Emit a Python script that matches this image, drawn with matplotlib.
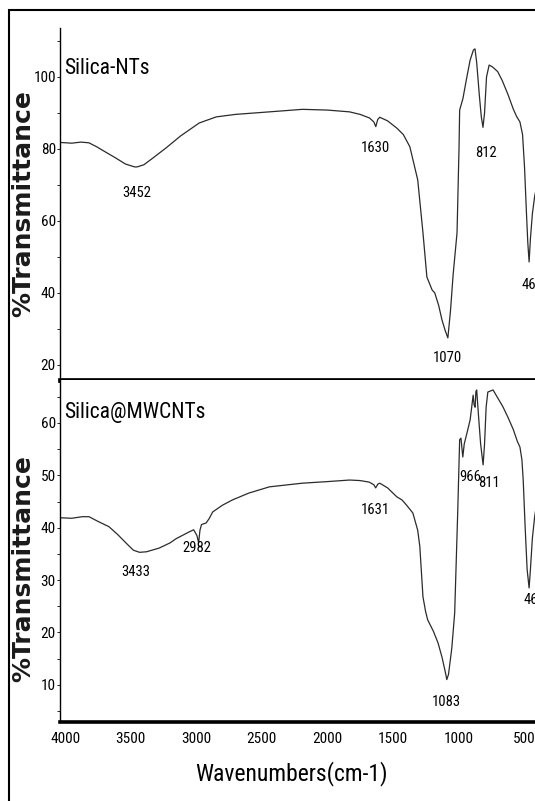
import matplotlib
matplotlib.use("Agg")
import matplotlib.pyplot as plt
from matplotlib import font_manager
from matplotlib.patches import Rectangle
from matplotlib.ticker import MultipleLocator

# FTIR spectra (wavenumber in cm-1, %T)
wn_nts = [4040, 3950, 3880, 3819, 3760, 3700, 3620, 3540, 3470, 3452, 3400, 3330,
          3230, 3120, 2978, 2848, 2700, 2442, 2190, 2000, 1830, 1750, 1678, 1645,
          1630, 1615, 1600, 1540, 1470, 1420, 1370, 1310, 1270, 1240, 1200, 1180,
          1150, 1125, 1100, 1080, 1060, 1040, 1010, 995, 990, 965, 940, 910, 885,
          873, 860, 840, 825, 812, 800, 785, 765, 740, 700, 665, 620, 580, 555,
          530, 510, 495, 480, 470, 460, 450, 435, 418, 400]
t_nts = [81.8, 81.6, 81.9, 81.7, 80.6, 79.3, 77.6, 75.8, 75.0, 75.0, 75.6, 77.5,
         80.3, 83.6, 87.2, 88.9, 89.6, 90.3, 91.0, 90.8, 90.3, 89.6, 88.6, 87.5,
         86.2, 88.2, 88.8, 87.8, 85.8, 84.0, 80.6, 71.4, 56.7, 44.4, 40.8, 40.0,
         36.5, 32.5, 29.5, 27.5, 35.0, 45.0, 56.7, 80.0, 90.8, 94.0, 99.0, 104.7, 107.5,
         107.8, 104.0, 95.0, 89.0, 86.0, 90.0, 100.0, 103.3, 102.8, 101.5, 99.0, 95.0, 91.0, 89.0,
         87.5, 84.0, 75.0, 62.0, 54.0, 48.6, 55.0, 62.0, 66.7, 70.0]

wn_cnt = [4040, 3950, 3870, 3819, 3750, 3667, 3600, 3537, 3480, 3433, 3380, 3284,
          3200, 3154, 3054, 3020, 2995, 2982, 2972, 2960, 2925, 2900, 2875, 2800,
          2724, 2600, 2442, 2190, 2000, 1830, 1750, 1680, 1645, 1631, 1615, 1600,
          1540, 1470, 1430, 1395, 1347, 1310, 1294, 1270, 1250, 1234, 1190, 1155,
          1125, 1100, 1088, 1075, 1050, 1028, 1005, 990, 980, 972, 966, 955, 930,
          910, 887, 880, 872, 866, 860, 845, 830, 811, 800, 788, 775, 735, 700,
          660, 620, 580, 550, 530, 515, 505, 490, 475, 460, 450, 435, 418, 400]
t_cnt = [41.9, 41.8, 42.1, 42.1, 41.2, 40.2, 38.7, 37.1, 35.7, 35.3, 35.4, 36.1,
         37.1, 37.9, 39.2, 39.6, 38.5, 37.1, 39.5, 40.6, 40.9, 41.8, 43.0, 44.3,
         45.3, 46.6, 47.8, 48.5, 48.8, 49.1, 49.0, 48.7, 48.2, 47.6, 48.3, 48.5,
         47.6, 45.9, 45.3, 44.3, 42.8, 39.5, 36.4, 26.8, 24.0, 22.4, 20.2, 18.0,
         15.3, 12.5, 11.0, 12.0, 17.0, 23.7, 42.8, 56.8, 57.1, 55.0, 53.5, 56.0, 58.5,
         60.6, 65.3, 63.5, 63.0, 66.0, 66.3, 61.0, 56.0, 52.0, 56.0, 63.0, 65.9, 66.3, 64.8,
         63.1, 61.0, 58.7, 56.5, 55.4, 53.0, 49.1, 40.0, 32.0, 28.5, 32.0, 38.0, 42.0, 45.0]

# peak labels: text, wavenumber, %T
peaks_nts = [("3452", 3452, 67.8), ("1630", 1630, 80.3), ("1070", 1080, 22.0),
             ("812", 790, 79.0), ("460", 430, 42.2)]
peaks_cnt = [("3433", 3460, 31.6), ("2982", 2993, 36.1), ("1631", 1631, 43.4),
             ("1083", 1088, 6.8), ("966", 912, 49.7), ("811", 765, 48.5),
             ("460", 422, 26.2)]

xticks = [4000, 3500, 3000, 2500, 2000, 1500, 1000, 500]

# a narrow sans if one is there, like the Arial Narrow of the original
names = {f.name for f in font_manager.fontManager.ttflist}
narrow = "Liberation Sans"
for cand in ["Liberation Sans Narrow", "Roboto Condensed", "Open Sans Condensed",
             "Noto Sans Condensed", "Arial Narrow"]:
    if cand in names:
        narrow = cand
        break
plt.rcParams["font.family"] = [narrow, "DejaVu Sans"]

W, H = 535, 801
fig = plt.figure(figsize=(W / 100, H / 100), dpi=100)

x0 = 60 / W
ax1 = fig.add_axes([x0, 1 - 380 / H, 1 - x0, (380 - 28) / H])
ax2 = fig.add_axes([x0, 1 - 722 / H, 1 - x0, (722 - 380) / H])

line_c = "#2b2b2b"
ax1.plot(wn_nts, t_nts, color=line_c, lw=0.9)
ax2.plot(wn_cnt, t_cnt, color=line_c, lw=0.9)

ax1.set_ylim(15.8, 113.6)
ax2.set_ylim(2.9, 68.2)
for ax in (ax1, ax2):
    ax.set_xlim(4040, 415)
    ax.spines["right"].set_visible(False)
    ax.spines["top"].set_visible(False)
    ax.spines["left"].set_linewidth(1.0)
    ax.tick_params(axis="y", length=2, width=0.6, pad=1, labelsize=11)
    ax.tick_params(axis="y", which="minor", length=2, width=0.6)
    ax.set_ylabel("%Transmittance", family="DejaVu Sans", fontweight="bold",
                  fontsize=18, color="#1a1a1a")

ax1.yaxis.set_major_locator(MultipleLocator(20))
ax1.yaxis.set_minor_locator(MultipleLocator(10))
ax2.yaxis.set_major_locator(MultipleLocator(10))
ax2.yaxis.set_minor_locator(MultipleLocator(5))

ax1.spines["bottom"].set_linewidth(3.4)
ax1.tick_params(axis="x", bottom=False, labelbottom=False)
ax2.spines["bottom"].set_linewidth(2.6)
ax2.set_xticks(xticks)
ax2.tick_params(axis="x", length=0, pad=7, labelsize=11)
ax2.set_xlabel("Wavenumbers(cm-1)", fontsize=17)
ax2.xaxis.set_label_coords(0.487, -0.115)

ax1.yaxis.set_label_coords(-0.053, 0.5)
ax2.yaxis.set_label_coords(-0.053, 0.45)

for txt, x, y in peaks_nts:
    ax1.text(x, y, txt, ha="center", va="center", fontsize=10.5, clip_on=False)
for txt, x, y in peaks_cnt:
    ax2.text(x, y, txt, ha="center", va="center", fontsize=10.5, clip_on=False)

ax1.text(0.008, 0.885, "Silica-NTs", transform=ax1.transAxes, fontsize=15.5,
         ha="left", va="center")
ax2.text(0.008, 0.905, "Silica@MWCNTs", transform=ax2.transAxes, fontsize=15.5,
         ha="left", va="center")

# frame round the whole figure
fig.add_artist(Rectangle((8.5 / W, -0.1), 1.2, 1.1 - 10.5 / H,
                         transform=fig.transFigure, fill=False,
                         edgecolor="black", lw=1.5))

fig.savefig("out.png", dpi=100)
